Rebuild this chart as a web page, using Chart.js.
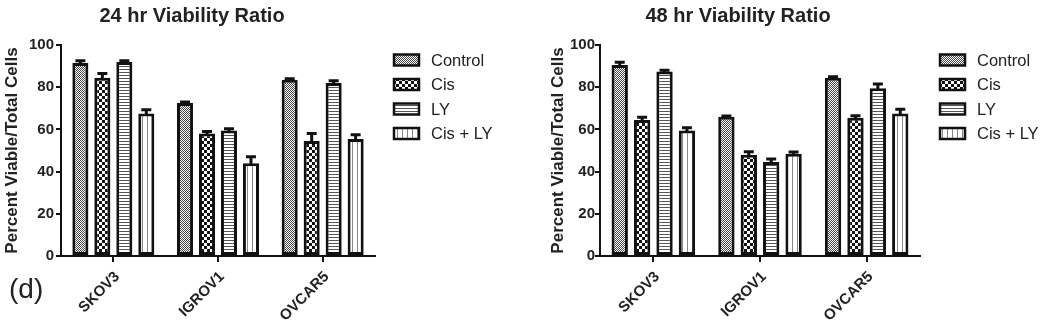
<!DOCTYPE html>
<html>
<head>
<meta charset="utf-8">
<script src="https://cdn.jsdelivr.net/npm/chart.js@4"></script>
<style>
body{margin:0;width:1050px;height:332px;background:#fff;position:relative;overflow:hidden;font-family:Arial,"Liberation Sans",sans-serif}
.panel{position:absolute;top:0;width:525px;height:332px}
#tag{position:absolute;left:9px;top:275px;font-size:28px;line-height:1;color:#222}
</style>
</head>
<body>
<div class="panel" style="left:0"><canvas id="chart24" width="525" height="332"></canvas></div>
<div class="panel" style="left:525px"><canvas id="chart48" width="525" height="332"></canvas></div>
<div id="tag">(d)</div>
<script>
// cell lines and treatments
const cellLines = ['SKOV3', 'IGROV1', 'OVCAR5'];
const treatments = ['Control', 'Cis', 'LY', 'Cis + LY'];
const yTicks = [0, 20, 40, 60, 80, 100];

// 24 hr values (percent viable / total) and error (SEM, upper only)
const h24Control = [91.5, 72.5, 83.5];
const h24ControlErr = [1.0, 0.5, 0.5];
const h24Cis = [84.5, 58, 54.5];
const h24CisErr = [2.0, 1.0, 3.5];
const h24LY = [92, 59.5, 82];
const h24LYErr = [0.5, 0.8, 1.0];
const h24CisLY = [67.5, 44, 55.5];
const h24CisLYErr = [1.8, 3.0, 2.0];

// 48 hr values
const h48Control = [90.5, 66, 84.5];
const h48ControlErr = [1.3, 0.4, 0.5];
const h48Cis = [64.5, 48, 65.5];
const h48CisErr = [1.3, 1.4, 1.0];
const h48LY = [87.5, 44.5, 79.5];
const h48LYErr = [0.5, 1.5, 2.0];
const h48CisLY = [59.5, 48.5, 67.5];
const h48CisLYErr = [1.3, 0.8, 2.0];

const FONT = 'Arial, "Liberation Sans", Helvetica, sans-serif';

function makePattern(kind) {
    const c = document.createElement('canvas');
    const g = c.getContext('2d');
    if (kind === 'fine') {
        c.width = 2; c.height = 2;
        g.fillStyle = '#fff'; g.fillRect(0, 0, 2, 2);
        g.fillStyle = '#444';
        g.fillRect(0, 0, 1, 1); g.fillRect(1, 1, 1, 1);
    } else if (kind === 'checker') {
        c.width = 6; c.height = 6;
        g.fillStyle = '#fff'; g.fillRect(0, 0, 6, 6);
        g.fillStyle = '#111';
        g.fillRect(0, 0, 3, 3); g.fillRect(3, 3, 3, 3);
    } else if (kind === 'hlines') {
        c.width = 4; c.height = 3;
        g.fillStyle = '#fff'; g.fillRect(0, 0, 4, 3);
        g.fillStyle = '#555'; g.fillRect(0, 0, 4, 1);
    } else {
        c.width = 5; c.height = 4;
        g.fillStyle = '#fff'; g.fillRect(0, 0, 5, 4);
        g.fillStyle = '#888'; g.fillRect(2, 0, 1, 4);
    }
    return g.createPattern(c, 'repeat');
}

const fills = [makePattern('fine'), makePattern('checker'), makePattern('hlines'), makePattern('vlines')];

const errorBars = {
    id: 'errorBars',
    afterDatasetsDraw(chart) {
        const ctx = chart.ctx;
        const y = chart.scales.y;
        chart.data.datasets.forEach((ds, i) => {
            chart.getDatasetMeta(i).data.forEach((bar, j) => {
                const top = y.getPixelForValue(ds.data[j] + ds.errors[j]);
                ctx.save();
                ctx.strokeStyle = '#111';
                ctx.lineWidth = 3;
                ctx.beginPath();
                ctx.moveTo(bar.x, bar.y + 1);
                ctx.lineTo(bar.x, top);
                ctx.moveTo(bar.x - 5, top);
                ctx.lineTo(bar.x + 5, top);
                ctx.stroke();
                ctx.restore();
            });
        });
    }
};

// title and legend, drawn on the same canvas
const panelDeco = {
    id: 'panelDeco',
    afterDraw(chart, args, opts) {
        const ctx = chart.ctx;
        ctx.save();
        ctx.fillStyle = '#222';
        ctx.font = 'bold 20px ' + FONT;
        ctx.textAlign = 'center';
        ctx.textBaseline = 'middle';
        ctx.fillText(opts.title, opts.titleX, 16);

        ctx.font = '16.5px ' + FONT;
        ctx.textAlign = 'left';
        chart.data.datasets.forEach((ds, i) => {
            const cy = 60 + i * 24.5;
            ctx.fillStyle = ds.backgroundColor;
            ctx.fillRect(opts.legendX, cy - 5.5, 25, 11);
            ctx.strokeStyle = '#111';
            ctx.lineWidth = 2.5;
            ctx.strokeRect(opts.legendX, cy - 5.5, 25, 11);
            ctx.fillStyle = '#222';
            ctx.fillText(ds.label, opts.legendX + 37, cy + 1);
        });
        ctx.restore();
    }
};

function buildChart(id, series, errors, deco, pad, yWidth, yTickPad) {
    const datasets = treatments.map((name, i) => ({
        label: name,
        data: series[i],
        errors: errors[i],
        backgroundColor: fills[i],
        borderColor: '#111',
        borderWidth: 3,
        borderSkipped: false
    }));

    new Chart(document.getElementById(id).getContext('2d'), {
        type: 'bar',
        data: { labels: cellLines, datasets: datasets },
        options: {
            responsive: false,
            animation: false,
            categoryPercentage: 0.84,
            barPercentage: 0.73,
            layout: { padding: { left: pad.left, right: pad.right, top: 45, bottom: 0 } },
            plugins: {
                legend: { display: false },
                tooltip: { enabled: false },
                panelDeco: deco
            },
            scales: {
                x: {
                    offset: true,
                    afterFit: (scale) => { scale.height = 76; },
                    border: { display: true, color: '#111', width: 2 },
                    grid: { display: true, offset: false, drawOnChartArea: false, drawTicks: true, tickLength: 6, color: '#111', lineWidth: 2 },
                    ticks: {
                        color: '#222',
                        minRotation: 45,
                        maxRotation: 45,
                        padding: 6,
                        labelOffset: 4,
                        font: { family: FONT, size: 15, weight: 'bold' }
                    }
                },
                y: {
                    min: 0,
                    max: 100,
                    afterFit: (scale) => { scale.width = yWidth; },
                    afterBuildTicks: (scale) => { scale.ticks = yTicks.map(v => ({ value: v })); },
                    border: { display: true, color: '#111', width: 2 },
                    grid: { display: true, drawOnChartArea: false, drawTicks: true, tickLength: 5, color: '#111', lineWidth: 2 },
                    ticks: {
                        color: '#222',
                        padding: yTickPad,
                        font: { family: FONT, size: 15, weight: 'bold' }
                    },
                    title: {
                        display: true,
                        text: 'Percent Viable/Total Cells',
                        color: '#222',
                        padding: { top: 2, bottom: 0 },
                        font: { family: FONT, size: 17, weight: 'bold' }
                    }
                }
            }
        },
        plugins: [errorBars, panelDeco]
    });
}

buildChart('chart24',
    [h24Control, h24Cis, h24LY, h24CisLY],
    [h24ControlErr, h24CisErr, h24LYErr, h24CisLYErr],
    { title: '24 hr Viability Ratio', titleX: 192, legendX: 394 },
    { left: 0, right: 150 }, 61, 2);

buildChart('chart48',
    [h48Control, h48Cis, h48LY, h48CisLY],
    [h48ControlErr, h48CisErr, h48LYErr, h48CisLYErr],
    { title: '48 hr Viability Ratio', titleX: 213, legendX: 415 },
    { left: 21, right: 130 }, 54, 0);
</script>
</body>
</html>
